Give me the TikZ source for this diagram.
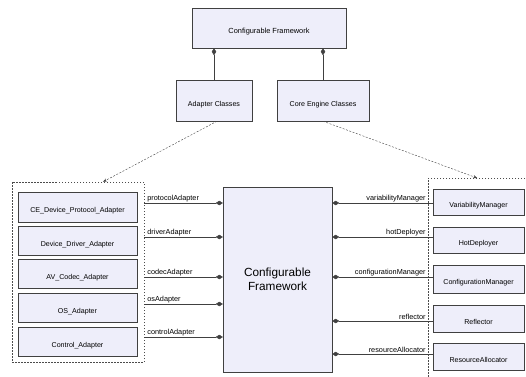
\documentclass[tikz,border=0pt]{standalone}
\usepackage{fontspec}
\setmainfont{Liberation Sans}
\usetikzlibrary{arrows.meta, shadows}
\definecolor{boxfill}{RGB}{238,238,250}
\tikzstyle{cls} = [rectangle, inner sep=0pt, draw=black!75, fill=boxfill, drop shadow={shadow xshift=1.2pt, shadow yshift=-1.2pt, fill=black!50, opacity=1}, text height=13pt, text depth=2pt, font=\fontsize{7.1}{8.5}\selectfont]
\tikzstyle{grp} = [rectangle, inner sep=0pt, draw=black!70, dashed, dash pattern=on 1.5pt off 1.5pt]
\tikzstyle{lbl} = [inner sep=1pt, font=\fontsize{7.3}{8.5}\selectfont]
\tikzstyle{comp} = [draw=black!75, -{Diamond[length=7pt,width=4.5pt]}]
\tikzstyle{dep} = [draw=black!75, dashed, dash pattern=on 2pt off 1.5pt, -{Stealth[length=4pt,width=3pt]}]

\begin{document}
\begin{tikzpicture}[x=1pt, y=-1pt]
\useasboundingbox (0,0) rectangle (526,376);
\clip (0,0) rectangle (526,376);

% top part
\node (cf) [cls, minimum width=154pt, minimum height=40pt, font=\fontsize{7.4}{9}\selectfont] at (269,28) {Configurable Framework};
\node (adp) [cls, minimum width=76pt, minimum height=41pt] at (214,100.5) {Adapter Classes};
\node (core) [cls, minimum width=92pt, minimum height=41pt] at (323,100.5) {Core Engine Classes};

\draw [comp] (adp.north) -- (adp.north |- cf.south);
\draw [comp] (core.north) -- (core.north |- cf.south);

% groups
\node (lg) [grp, minimum width=132pt, minimum height=180pt] at (78,272) {};
\node (rg) [grp, anchor=north west, minimum width=120pt, minimum height=220pt] at (428,178) {};

\draw [dep] ([xshift=3pt]adp.south) -- ([xshift=25pt]lg.north);
\draw [dep] (core.south) -- ([xshift=-11pt]rg.north);

% left adapters
\node (cdp) [cls, minimum width=119pt, minimum height=30pt] at (77.5,207) {CE\_Device\_Protocol\_Adapter};
\node (dda) [cls, minimum width=119pt, minimum height=29pt] at (77.5,240.5) {Device\_Driver\_Adapter};
\node (avc) [cls, minimum width=119pt, minimum height=29pt] at (77.5,273.5) {AV\_Codec\_Adapter};
\node (osa) [cls, minimum width=119pt, minimum height=29pt] at (77.5,307.5) {OS\_Adapter};
\node (cta) [cls, minimum width=119pt, minimum height=29pt] at (77.5,341.5) {Control\_Adapter};

% main framework
\node (fw) [cls, minimum width=109pt, minimum height=185pt, text height=, text depth=, font=\fontsize{11.8}{13.5}\selectfont, align=center] at (277.5,279.5) {Configurable\\Framework};

% right managers
\node (vm) [cls, minimum width=91pt, minimum height=26pt] at (478.5,202) {VariabilityManager};
\node (hd) [cls, minimum width=91pt, minimum height=26pt] at (478.5,240) {HotDeployer};
\node (cm) [cls, minimum width=91pt, minimum height=28pt] at (478.5,279) {ConfigurationManager};
\node (rf) [cls, minimum width=91pt, minimum height=27pt] at (478.5,318.5) {Reflector};
\node (ra) [cls, minimum width=91pt, minimum height=27pt] at (478.5,356.5) {ResourceAllocator};

% compositions left
\draw [comp] (lg.east |- 0,203) -- node [lbl, pos=0, anchor=south west, xshift=2pt] {protocolAdapter} (fw.west |- 0,203);
\draw [comp] (lg.east |- 0,237) -- node [lbl, pos=0, anchor=south west, xshift=2pt] {driverAdapter} (fw.west |- 0,237);
\draw [comp] (lg.east |- 0,277) -- node [lbl, pos=0, anchor=south west, xshift=2pt] {codecAdapter} (fw.west |- 0,277);
\draw [comp] (lg.east |- 0,304) -- node [lbl, pos=0, anchor=south west, xshift=2pt] {osAdapter} (fw.west |- 0,304);
\draw [comp] (lg.east |- 0,337) -- node [lbl, pos=0, anchor=south west, xshift=2pt] {controlAdapter} (fw.west |- 0,337);

% compositions right
\draw [comp] (vm.west |- 0,203) -- node [lbl, pos=0, anchor=south east, xshift=-6pt] {variabilityManager} (fw.east |- 0,203);
\draw [comp] (hd.west |- 0,237) -- node [lbl, pos=0, anchor=south east, xshift=-6pt] {hotDeployer} (fw.east |- 0,237);
\draw [comp] (cm.west |- 0,277) -- node [lbl, pos=0, anchor=south east, xshift=-6pt] {configurationManager} (fw.east |- 0,277);
\draw [comp] (rf.west |- 0,321) -- node [lbl, pos=0, anchor=south east, xshift=-6pt] {reflector} (fw.east |- 0,321);
\draw [comp] (ra.west |- 0,354) -- node [lbl, pos=0, anchor=south east, xshift=-6pt] {resourceAllocator} (fw.east |- 0,354);

\end{tikzpicture}
\end{document}
